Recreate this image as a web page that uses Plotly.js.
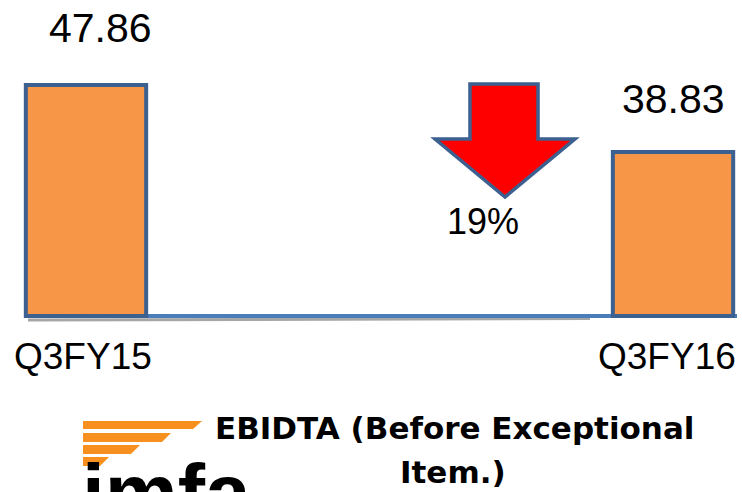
<!DOCTYPE html>
<html><head><meta charset="utf-8">
<script src="https://cdn.plot.ly/plotly-3.0.1.min.js"></script>
<style>html,body{margin:0;padding:0;background:#fff}#c{width:742px;height:492px}</style>
</head><body><div id="c"></div>
<script>
const categories = ["Q3FY15", "Q3FY16"];
const values = [47.86, 38.83];
const valueLabels = ["47.86", "38.83"];
const changeLabel = "19%";
const titleLines = ["EBIDTA (Before Exceptional", "Item.)"];
const logoText = "imfa";
const BASE = 16.72;

const W = 742, H = 492;
const px = x => x / W, py = y => 1 - y / H;
const P = (x, y) => px(x).toFixed(4) + "," + py(y).toFixed(4);

const xs = categories.map((c, i) => i);
const trace = {
  type: "bar", x: xs, y: values.map(v => v - BASE), base: BASE,
  width: 0.205,
  marker: { color: "#F79646", line: { color: "#3C6090", width: 4 } },
  hoverinfo: "skip"
};

const font = { family: "Liberation Sans, Arial, sans-serif", color: "#000" };
const annotations = [];
const lblShift = [[14, 57], [0, 53]];
values.forEach((v, i) => annotations.push({
  x: xs[i], y: v, xref: "x", yref: "y", text: valueLabels[i], showarrow: false,
  xshift: lblShift[i][0], yshift: lblShift[i][1], yanchor: "middle",
  font: Object.assign({ size: 41 }, font)
}));
const catShift = [-3, -6];
categories.forEach((c, i) => annotations.push({
  x: xs[i], y: py(356), xref: "x", yref: "paper", text: c, showarrow: false,
  xshift: catShift[i], yanchor: "middle",
  font: Object.assign({ size: 37 }, font)
}));
annotations.push({
  x: px(483), y: py(221), xref: "paper", yref: "paper", text: changeLabel, showarrow: false,
  yanchor: "middle", font: Object.assign({ size: 36 }, font)
});
const tfont = { family: "DejaVu Sans, sans-serif", size: 31, color: "#000" };
annotations.push({
  x: px(454), y: py(428), xref: "paper", yref: "paper", text: "<b>" + titleLines[0] + "</b>", showarrow: false,
  yanchor: "middle", font: tfont
});
annotations.push({
  x: px(453), y: py(472), xref: "paper", yref: "paper", text: "<b>" + titleLines[1] + "</b>", showarrow: false,
  yanchor: "middle", font: tfont
});
annotations.push({
  x: px(80), y: py(445), xref: "paper", yref: "paper", xanchor: "left", yanchor: "top",
  text: "<b>" + logoText + "</b>", showarrow: false,
  font: { family: "Liberation Sans, Arial, sans-serif", size: 82, color: "#000" }
});

const arrowPath = "M" + [P(470,84), P(538,84), P(538,139), P(575,139), P(505,197), P(435,139), P(470,139)].join(" L") + " Z";
const stripes = [[421,429,202],[433,442,171],[445,454,140],[457,466,109]];
const shapes = [
  { type: "line", xref: "paper", yref: "paper", x0: px(28), x1: px(590), y0: py(320), y1: py(318.5),
    line: { color: "#A6A6A6", width: 3 }, layer: "below" },
  { type: "line", xref: "paper", yref: "y", x0: px(25), x1: px(737), y0: BASE, y1: BASE,
    line: { color: "#4A7EBB", width: 4 }, layer: "below" },
  { type: "path", xref: "paper", yref: "paper", path: arrowPath,
    fillcolor: "#FF0000", line: { color: "#3C6090", width: 3.5 } }
];
stripes.forEach(s => shapes.push({
  type: "path", xref: "paper", yref: "paper",
  path: "M" + [P(83, s[0]), P(s[2], s[0]), P(s[2] - 9, s[1]), P(83, s[1])].join(" L") + " Z",
  fillcolor: "#F7901E", line: { width: 0 }
}));

const layout = {
  width: W, height: H, margin: { l: 0, r: 0, t: 0, b: 0 },
  paper_bgcolor: "#fff", plot_bgcolor: "#fff", showlegend: false,
  xaxis: { range: [-0.1465, 1.1175], visible: false, fixedrange: true },
  yaxis: { range: [-7.01, 59.32], visible: false, fixedrange: true },
  annotations, shapes
};
Plotly.newPlot("c", [trace], layout, { displayModeBar: false, staticPlot: true });
</script></body></html>
